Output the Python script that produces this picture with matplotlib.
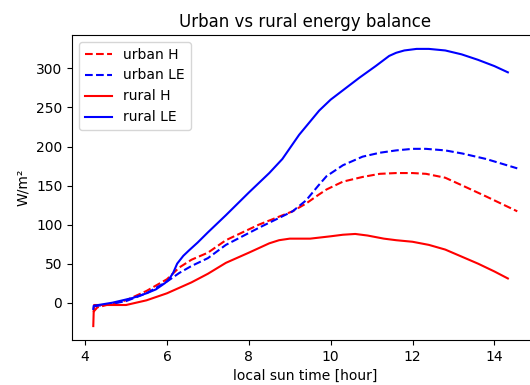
import numpy as np
import matplotlib
matplotlib.use('Agg')
import matplotlib.pyplot as plt

# urban station (dashed)
t_urban = [4.2, 4.3, 4.6, 5.0, 5.5, 6.0, 6.3, 6.6, 7.0, 7.44, 8.25, 9.07, 9.4,
           9.7, 9.9, 10.3, 10.78, 11.2, 11.6, 12.0, 12.33, 12.8, 13.22, 13.8, 14.56]
urban_H = [-12, -6, -2, 3, 15, 30, 45, 55, 64, 80, 100, 117, 127,
           138, 145, 155, 161, 165, 166, 166, 165, 160, 150, 136, 117]
urban_LE = [-5, -4, -2, 2, 12, 27, 38, 47, 57, 74, 96, 117, 131,
            150, 162, 176, 187, 192, 195, 197, 197, 195, 191, 184, 172]

# rural station (solid)
t_rural_H = [4.2, 4.21, 4.22, 4.5, 5.0, 5.5, 6.0, 6.3, 6.6, 7.0, 7.44, 8.0, 8.25,
             8.5, 8.74, 9.0, 9.5, 10.0, 10.3, 10.6, 10.9, 11.3, 11.6, 12.0, 12.4,
             12.8, 13.2, 13.6, 14.0, 14.33]
rural_H = [-30, -12, -3, -3, -3, 3, 12, 19, 26, 37, 51, 64, 70,
           76, 80, 82, 82, 85, 87, 88, 86, 82, 80, 78, 74,
           68, 59, 50, 40, 31]
t_rural_LE = [4.2, 4.21, 4.67, 5.16, 5.5, 5.73, 5.95, 6.05, 6.15, 6.25, 6.4, 6.54,
              6.75, 7.0, 7.44, 8.0, 8.5, 8.82, 9.23, 9.72, 10.0, 10.4, 10.7, 11.1,
              11.43, 11.6, 11.8, 12.1, 12.4, 12.8, 13.2, 13.6, 14.0, 14.33]
rural_LE = [-8, -4, 0, 6, 12, 17, 25, 30, 38, 50, 60, 67,
            77, 90, 112, 141, 166, 184, 215, 246, 260, 276, 288, 303,
            316, 320, 323, 325, 325, 323, 318, 311, 303, 295]

fig = plt.figure(figsize=(5.3, 3.85), dpi=100)
ax = fig.add_axes([0.136, 0.117, 0.88, 0.792])

ax.plot(t_urban, urban_H, 'r--', label='urban H')
ax.plot(t_urban, urban_LE, 'b--', label='urban LE')
ax.plot(t_rural_H, rural_H, 'r', label='rural H')
ax.plot(t_rural_LE, rural_LE, 'b', label='rural LE')

ax.set_title('Urban vs rural energy balance')
ax.set_xlabel('local sun time [hour]')
ax.set_ylabel('W/m²')
ax.legend(loc='upper left')

fig.savefig('out.png', dpi=100)
